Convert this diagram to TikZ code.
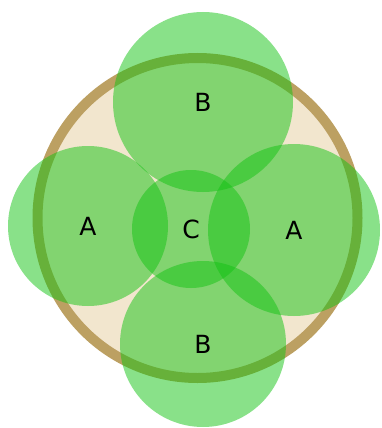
\documentclass[tikz,border=0pt]{standalone}
\usepackage{fontspec}
\setmainfont{DejaVu Sans}
\definecolor{leaf}{RGB}{20,195,20}
\definecolor{rim}{RGB}{188,160,98}
\definecolor{sand}{RGB}{242,230,206}
\begin{document}
\begin{tikzpicture}[x=1pt, y=-1pt,
  rg/.style={circle, draw=rim, line width=10pt, fill=sand, inner sep=0pt},
  lf/.style={circle, fill=leaf, fill opacity=0.5, text opacity=1, inner sep=0pt,
    font=\fontsize{25}{25}\selectfont}]
\useasboundingbox (0,0) rectangle (381,428);
\node[rg, minimum size=320pt] (ring) at (197.5,218) {};
% the four outer discs and the middle one, all half see-through
\node[lf, minimum size=180pt] (b1) at (203,102) {B};
\node[lf, minimum size=166pt] (b2) at (203,344) {B};
\node[lf, minimum size=160pt] (a1) at (88,226) {A};
\node[lf, minimum size=172pt] (a2) at (294,230) {A};
\node[lf, minimum size=118pt] (c) at (191,229) {C};
\end{tikzpicture}
\end{document}
